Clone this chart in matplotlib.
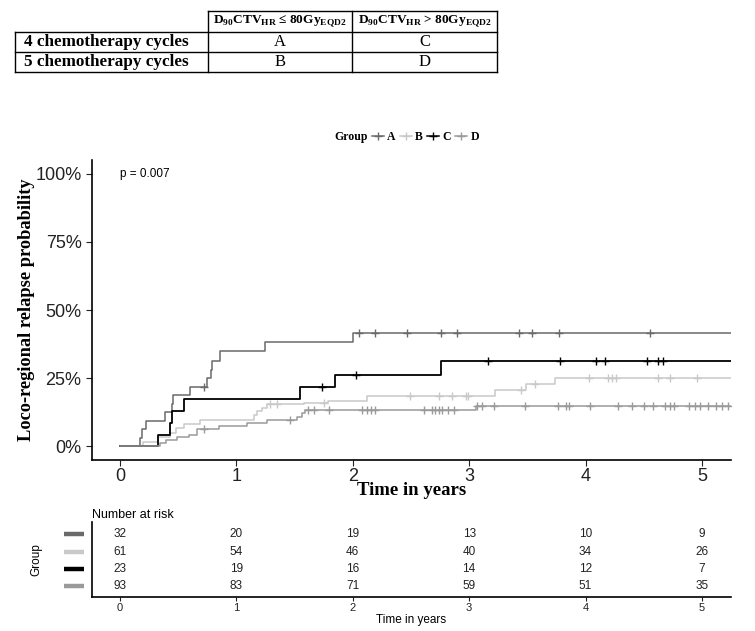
import numpy as np
import matplotlib
matplotlib.use("Agg")
import matplotlib.pyplot as plt
from matplotlib.lines import Line2D

plt.rcParams['mathtext.fontset'] = 'custom'
plt.rcParams['mathtext.rm'] = 'Liberation Serif'
plt.rcParams['mathtext.bf'] = 'Liberation Serif:bold'

# ---- data ----
groups = ["A", "B", "C", "D"]
colors = {"A": "#6a6a6a", "B": "#c9c9c9", "C": "#000000", "D": "#9a9a9a"}

# step times (years) and cumulative relapse probability (%)
a_times = [0.17, 0.19, 0.22, 0.39, 0.45, 0.46, 0.60, 0.75, 0.78, 0.79, 0.86, 1.25, 2.00]
a_probs = [3.1, 6.3, 9.4, 12.5, 15.6, 18.8, 21.9, 25.0, 28.1, 31.4, 34.8, 38.1, 41.5]
b_times = [0.20, 0.33, 0.43, 0.48, 0.55, 0.69, 1.15, 1.18, 1.22, 1.26, 1.58, 1.79, 2.12, 3.22, 3.49, 3.74]
b_probs = [1.6, 3.3, 4.9, 6.6, 8.2, 9.8, 11.5, 13.1, 14.0, 15.4, 16.0, 16.6, 18.5, 20.6, 22.7, 24.9]
c_times = [0.33, 0.43, 0.45, 0.55, 1.55, 1.85, 2.76]
c_probs = [4.3, 8.7, 13.0, 17.4, 21.8, 26.2, 31.2]
d_times = [0.34, 0.40, 0.49, 0.59, 0.66, 0.85, 1.09, 1.26, 1.52, 1.56, 1.59, 3.06]
d_probs = [1.1, 2.2, 3.3, 4.3, 6.5, 7.5, 8.6, 9.7, 10.9, 12.1, 13.2, 14.8]

# censoring times
a_cens = [0.72, 2.05, 2.19, 2.47, 2.76, 2.90, 3.43, 3.54, 3.77, 4.55]
b_cens = [1.29, 1.35, 1.75, 2.49, 2.74, 2.85, 2.97, 2.99, 3.45, 3.57, 4.03, 4.19,
          4.23, 4.26, 4.62, 4.73, 4.96]
c_cens = [1.74, 2.03, 3.16, 3.78, 4.09, 4.17, 4.53, 4.62, 4.67]
d_cens = [0.72, 1.46, 1.62, 1.67, 1.80, 2.08, 2.12, 2.16, 2.19, 2.61, 2.68, 2.71,
          2.74, 2.77, 2.82, 2.87, 3.07, 3.11, 3.21, 3.48, 3.76, 3.83, 3.86, 4.04,
          4.28, 4.40, 4.50, 4.58, 4.68, 4.73, 4.76, 4.89, 4.94, 4.98, 5.05, 5.12,
          5.17, 5.22]
t_end = 5.25

risk_times = [0, 1, 2, 3, 4, 5]
risk_a = [32, 20, 19, 13, 10, 9]
risk_b = [61, 54, 46, 40, 34, 26]
risk_c = [23, 19, 16, 14, 12, 7]
risk_d = [93, 83, 71, 59, 51, 35]

curves = {
    "A": (a_times, a_probs, a_cens),
    "B": (b_times, b_probs, b_cens),
    "C": (c_times, c_probs, c_cens),
    "D": (d_times, d_probs, d_cens),
}
risk = {"A": risk_a, "B": risk_b, "C": risk_c, "D": risk_d}

serif = ['Liberation Serif', 'DejaVu Serif']
sans = ['Liberation Sans', 'DejaVu Sans']

W, H = 755, 631
fig = plt.figure(figsize=(W / 100, H / 100), dpi=100)


def fx(px):
    return px / W


def fy(py):
    return 1 - py / H


# ---- table at top ----
col_x = [15, 208, 352, 497]
row_y = [11, 32, 52, 72]
lw_t = 1.0
fig.add_artist(Line2D([fx(208), fx(497)], [fy(11), fy(11)], color='k', lw=lw_t))
for yy in row_y[1:]:
    fig.add_artist(Line2D([fx(15), fx(497)], [fy(yy), fy(yy)], color='k', lw=lw_t))
fig.add_artist(Line2D([fx(15), fx(15)], [fy(32), fy(72)], color='k', lw=lw_t))
for xx in col_x[1:]:
    fig.add_artist(Line2D([fx(xx), fx(xx)], [fy(11), fy(72)], color='k', lw=lw_t))

hdr1 = r'D$_{\mathbf{90}}$CTV$_{\mathbf{HR}}$ ≤ 80Gy$_{\mathbf{EQD2}}$'
hdr2 = r'D$_{\mathbf{90}}$CTV$_{\mathbf{HR}}$ > 80Gy$_{\mathbf{EQD2}}$'
fig.text(fx(280), fy(21.5), hdr1, ha='center', va='center', family=serif,
         fontweight='bold', fontsize=9.6)
fig.text(fx(424.5), fy(21.5), hdr2, ha='center', va='center', family=serif,
         fontweight='bold', fontsize=9.6)
fig.text(fx(24), fy(42), '4 chemotherapy cycles', ha='left', va='center',
         family=serif, fontweight='bold', fontsize=12.3)
fig.text(fx(24), fy(62), '5 chemotherapy cycles', ha='left', va='center',
         family=serif, fontweight='bold', fontsize=12.3)
for txt, cx, cy in [("A", 280, 42), ("C", 424.5, 42), ("B", 280, 62), ("D", 424.5, 62)]:
    fig.text(fx(cx), fy(cy), txt, ha='center', va='center', family=serif, fontsize=12)

# ---- main KM plot ----
ax = fig.add_axes([fx(92), fy(460), fx(731) - fx(92), fy(160) - fy(460)])
for g in groups:
    tt, pp, cc = curves[g]
    xs = np.concatenate([[0], tt, [t_end]])
    ys = np.concatenate([[0], pp, [pp[-1]]]) / 100
    ax.step(xs, ys, where='post', color=colors[g], lw=1.3 if g == "C" else 1.1)
    idx = np.searchsorted(xs, cc, side='right') - 1
    ax.plot(cc, ys[idx], ls='none', marker='+', ms=6, mew=1.0, color=colors[g])

ax.set_xlim(-0.24, 5.25)
ax.set_ylim(-0.05, 1.05)
ax.set_xticks([0, 1, 2, 3, 4, 5])
ax.set_yticks([0, 0.25, 0.5, 0.75, 1.0])
ax.set_yticklabels(['0%', '25%', '50%', '75%', '100%'])
ax.tick_params(labelsize=13, length=4, width=0.8, colors='#222222')
ax.tick_params(axis='x', pad=1.5)
for lab in ax.get_xticklabels() + ax.get_yticklabels():
    lab.set_family(sans)
for s in ['top', 'right']:
    ax.spines[s].set_visible(False)
for s in ['left', 'bottom']:
    ax.spines[s].set_linewidth(1.2)
ax.set_xlabel('Time in years', family=serif, fontweight='bold', fontsize=13.5, labelpad=-2)
ax.set_ylabel('Loco-regional relapse probability', family=serif, fontweight='bold',
              fontsize=13.2)
ax.yaxis.set_label_coords((35 - 92) / 639, 0.5)
ax.text(0.0, 1.0, 'p = 0.007', family=sans, fontsize=8.5, va='center', ha='left')

# legend above
fig.text(fx(334), fy(137), 'Group', family=serif, fontweight='bold', fontsize=8.5,
         ha='left', va='center')
handles = [Line2D([], [], color=colors[g], lw=1.1, marker='+', ms=6) for g in groups]
fig.legend(handles, groups, ncol=4, loc='center left', bbox_to_anchor=(fx(366), fy(137)),
           frameon=False, handlelength=1.0, handletextpad=0.3, columnspacing=0.35,
           borderpad=0, prop={'family': serif, 'weight': 'bold', 'size': 8.5})

# ---- risk table ----
rax = fig.add_axes([fx(92), fy(597), fx(731) - fx(92), fy(522) - fy(597)])
for k, g in enumerate(groups):
    for t, n in zip(risk_times, risk[g]):
        rax.text(t, k, str(n), ha='center', va='center', family=sans, fontsize=8.5,
                 color='#222222')
    rax.plot([-0.044, -0.013], [k, k], color=colors[g], lw=3.2,
             transform=rax.get_yaxis_transform(), clip_on=False, solid_capstyle='butt')
rax.set_xlim(-0.24, 5.25)
rax.set_ylim(3.62, -0.7)
rax.set_xticks(risk_times)
rax.set_yticks([])
rax.tick_params(labelsize=8, length=3, width=0.8, pad=1, colors='#222222')
for lab in rax.get_xticklabels():
    lab.set_family(sans)
for s in ['top', 'right']:
    rax.spines[s].set_visible(False)
for s in ['left', 'bottom']:
    rax.spines[s].set_linewidth(1.2)
rax.set_xlabel('Time in years', family=sans, fontsize=8.5, labelpad=1)
rax.set_ylabel('Group', family=sans, fontsize=8.5, labelpad=36)
rax.set_title('Number at risk', family=sans, fontsize=9, loc='left', pad=3, x=0.0)

fig.savefig('out.png', dpi=100)
